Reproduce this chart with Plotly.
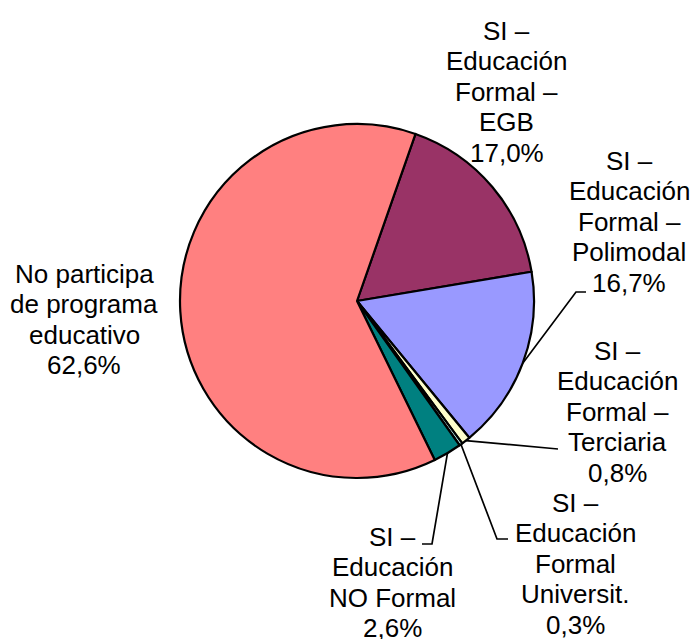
import math
import plotly.graph_objects as go

# ---- data ----
categories = [
    "SI – Educación Formal – EGB",
    "SI – Educación Formal – Polimodal",
    "SI – Educación Formal – Terciaria",
    "SI – Educación Formal Universit.",
    "SI – Educación NO Formal",
    "No participa de programa educativo",
]
values = [17.0, 16.7, 0.8, 0.3, 2.6, 62.6]
label_lines = [
    ["SI –", "Educación", "Formal –", "EGB"],
    ["SI –", "Educación", "Formal –", "Polimodal"],
    ["SI –", "Educación", "Formal –", "Terciaria"],
    ["SI –", "Educación", "Formal", "Universit."],
    ["SI –", "Educación", "NO Formal"],
    ["No participa", "de programa", "educativo"],
]
pct_text = ["17,0%", "16,7%", "0,8%", "0,3%", "2,6%", "62,6%"]
colors = ["#993366", "#9999FF", "#FFFFCC", "#CCFFFF", "#008080", "#FF8080"]

# ---- layout / style ----
W, H = 695, 639
CX, CY, R = 357, 301, 177
ROT = 19.3
FONT = dict(family="Arial, Liberation Sans, sans-serif", size=26, color="black")
LINE_H = 30.4

# label block positions (centre x, first line centre y) in pixels
label_pos = [(507, 31), (629, 161), (617, 351), (575, 503), (392, 537), (84, 274)]
# leader elbows (None = no leader)
leaders = [None, [(576, 292), (586, 292)], [(558, 449)], [(497, 539), (508, 539)],
           [(432, 544), (422, 544)], None]

def px(x):
    return x / W

def py(y):
    return 1 - y / H

fig = go.Figure(go.Pie(
    labels=categories,
    values=values,
    sort=False,
    direction="clockwise",
    rotation=ROT,
    marker=dict(colors=colors, line=dict(color="black", width=2.2)),
    textinfo="none",
    hoverinfo="label+percent",
    domain=dict(x=[px(CX - R), px(CX + R)], y=[py(CY + R), py(CY - R)]),
))

annotations = []
for lines, pct, (lx, ly) in zip(label_lines, pct_text, label_pos):
    for i, t in enumerate(lines + [pct]):
        annotations.append(dict(
            text=t, x=px(lx), y=py(ly + i * LINE_H), xref="paper", yref="paper",
            xanchor="center", yanchor="middle", showarrow=False, font=FONT,
        ))

shapes = []
total = sum(values)
start = ROT
for v, ld in zip(values, leaders):
    span = v / total * 360
    mid = math.radians(start + span / 2)
    start += span
    if ld is None:
        continue
    ex, ey = CX + R * math.sin(mid), CY - R * math.cos(mid)
    pts = [(ex, ey)] + ld
    path = "M " + " L ".join(f"{px(x)},{py(y)}" for x, y in pts)
    shapes.append(dict(type="path", path=path, xref="paper", yref="paper",
                       line=dict(color="black", width=1.7)))

fig.update_layout(
    width=W, height=H,
    margin=dict(l=0, r=0, t=0, b=0),
    paper_bgcolor="white", plot_bgcolor="white",
    showlegend=False,
    annotations=annotations,
    shapes=shapes,
)

fig.write_html(
    "out.html",
    config={"displayModeBar": False},
    post_script="document.body.style.margin='0';document.body.style.padding='0';"
                "document.body.style.overflow='hidden';",
)
